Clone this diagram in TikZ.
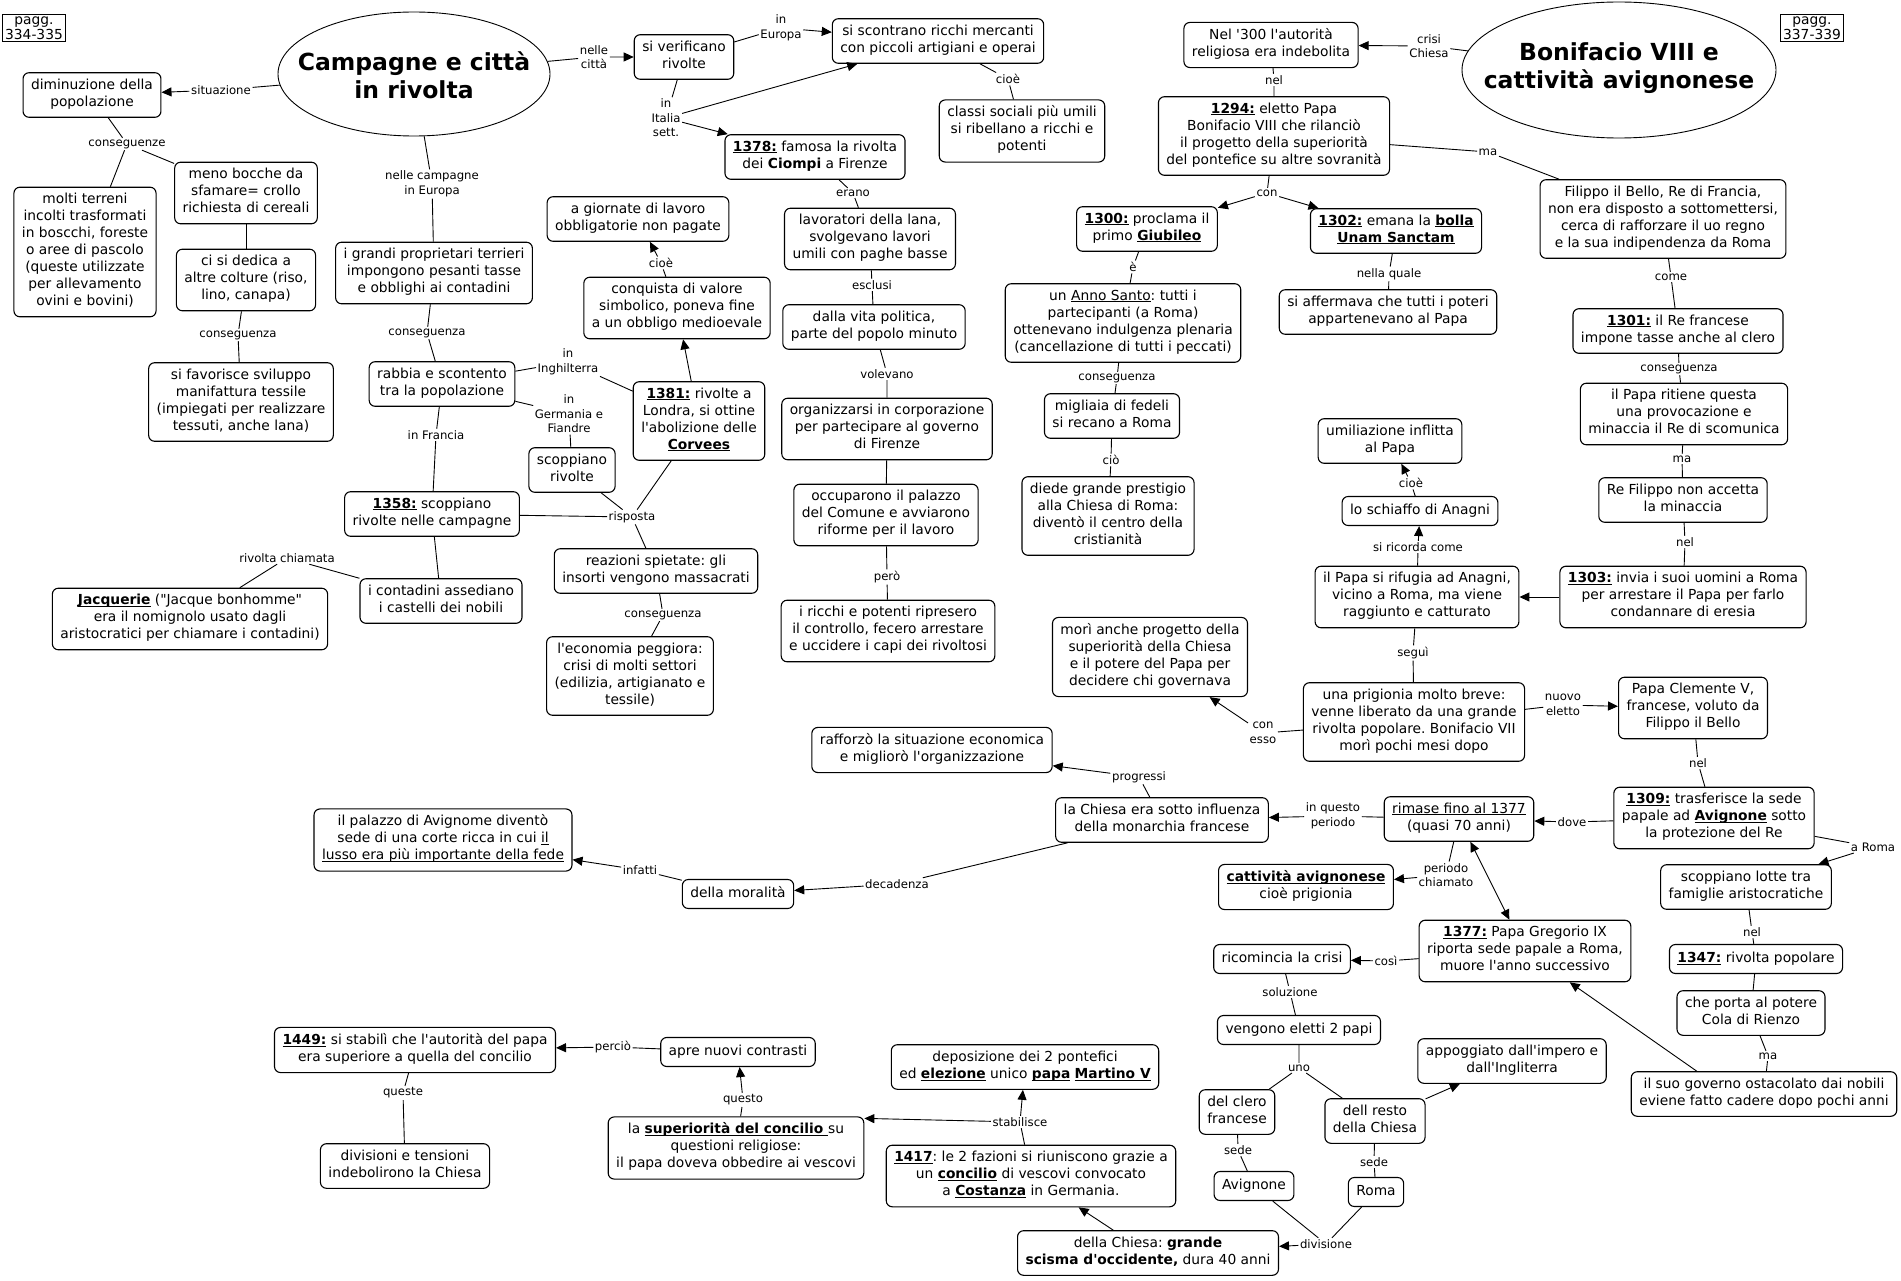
\documentclass[tikz,border=0pt]{standalone}
\usepackage{fontspec}
\setmainfont{DejaVu Sans}[Ligatures=TeXOff]
\usetikzlibrary{arrows.meta,shapes.geometric}
\frenchspacing
\newcommand{\undl}[1]{\leavevmode\setbox0\hbox{#1}\rlap{\rule[-2.2pt]{\wd0}{0.9pt}}\box0\relax}
\newcommand{\yr}[1]{\undl{\textbf{#1}}}

\begin{document}
\begin{tikzpicture}[
    x=1pt,y=-1pt,
    >={Triangle[length=10pt,width=9pt]},
    cpt/.style={
      rectangle,rounded corners=6pt,draw,line width=1.1pt,align=center,
      font=\fontsize{13.8}{17}\selectfont,inner xsep=8pt,inner ysep=6pt,
      execute at begin node=\strut,execute at end node=\strut
    },
    topic/.style={ellipse,draw,line width=0.9pt,inner sep=0pt},
    topictxt/.style={align=center,font=\fontsize{23.5}{28}\selectfont\bfseries},
    pag/.style={
      rectangle,draw,line width=0.9pt,align=center,inner xsep=3pt,inner ysep=1.5pt,
      font=\fontsize{13.8}{15.5}\selectfont
    },
    lnk/.style={align=center,inner sep=1.5pt,font=\fontsize{11.7}{14.5}\selectfont},
    rel/.style={line width=0.9pt}
  ]
    \path[use as bounding box,fill=white] (0,0) rectangle (1901,1281);

    \node[pag] (pagA) at (34,28) {pagg.\\334-335};
    \node[pag] (pagB) at (1812,28) {pagg.\\337-339};
    \node[topic,minimum width=272pt,minimum height=124pt] (campagne) at (414,74) {};
    \node[topictxt] (campagnetxt) at (414,75) {Campagne e città\\in rivolta};
    \node[topic,minimum width=314pt,minimum height=136pt] (bonifacio) at (1619,70) {};
    \node[topictxt] (bonifaciotxt) at (1619,68) {Bonifacio VIII e\\cattività avignonese};

    \node[cpt] (dim) at (92,95) {diminuzione della\\popolazione};
    \node[cpt] (terreni) at (85,252) {molti terreni\\incolti trasformati\\in boscchi, foreste\\o aree di pascolo\\(queste utilizzate\\per allevamento\\ovini e bovini)};
    \node[cpt] (bocche) at (246,193) {meno bocche da\\sfamare= crollo\\richiesta di cereali};
    \node[cpt] (dedica) at (246,280) {ci si dedica a\\altre colture (riso,\\lino, canapa)};
    \node[cpt] (tessile) at (241,402) {si favorisce sviluppo\\manifattura tessile\\(impiegati per realizzare\\tessuti, anche lana)};
    \node[cpt] (proprietari) at (434,273) {i grandi proprietari terrieri\\impongono pesanti tasse\\e obblighi ai contadini};
    \node[cpt] (rabbia) at (442,384) {rabbia e scontento\\tra la popolazione};
    \node[cpt] (verificano) at (684,57) {si verificano\\rivolte};
    \node[cpt] (scontrano) at (938,41) {si scontrano ricchi mercanti\\con piccoli artigiani e operai};
    \node[cpt] (classi) at (1022,131) {classi sociali più umili\\si ribellano a ricchi e\\potenti};
    \node[cpt] (ciompi) at (815,157) {\yr{1378:} famosa la rivolta\\dei \textbf{Ciompi} a Firenze};
    \node[cpt] (lana) at (870,239) {lavoratori della lana,\\svolgevano lavori\\umili con paghe basse};
    \node[cpt] (politica) at (874,327) {dalla vita politica,\\parte del popolo minuto};
    \node[cpt] (corpor) at (887,429) {organizzarsi in corporazione\\per partecipare al governo\\di Firenze};
    \node[cpt] (palazzo) at (886,515) {occuparono il palazzo\\del Comune e avviarono\\riforme per il lavoro};
    \node[cpt] (potenti) at (888,631) {i ricchi e potenti ripresero\\il controllo, fecero arrestare\\e uccidere i capi dei rivoltosi};
    \node[cpt] (giornate) at (638,219) {a giornate di lavoro\\obbligatorie non pagate};
    \node[cpt] (conquista) at (677,308) {conquista di valore\\simbolico, poneva fine\\a un obbligo medioevale};
    \node[cpt] (londra) at (699,421) {\yr{1381:} rivolte a\\Londra, si ottine\\l'abolizione delle\\\yr{Corvees}};
    \node[cpt] (scoprivolte) at (572,470) {scoppiano\\rivolte};
    \node[cpt] (francia) at (432,514) {\yr{1358:} scoppiano\\rivolte nelle campagne};
    \node[cpt] (reazioni) at (656,571) {reazioni spietate: gli\\insorti vengono massacrati};
    \node[cpt] (economia) at (630,676) {l'economia peggiora:\\crisi di molti settori\\(edilizia, artigianato e\\tessile)};
    \node[cpt] (assedio) at (441,601) {i contadini assediano\\i castelli dei nobili};
    \node[cpt] (jacq) at (190,619) {\yr{Jacquerie} ("Jacque bonhomme"\\era il nomignolo usato dagli\\aristocratici per chiamare i contadini)};

    \node[cpt] (trecento) at (1271,45) {Nel '300 l'autorità\\religiosa era indebolita};
    \node[cpt] (b1294) at (1274,136) {\yr{1294:} eletto Papa\\Bonifacio VIII che rilanciò\\il progetto della superiorità\\del pontefice su altre sovranità};
    \node[cpt] (filippo) at (1663,219) {Filippo il Bello, Re di Francia,\\non era disposto a sottomettersi,\\cerca di rafforzare il uo regno\\e la sua indipendenza da Roma};
    \node[cpt] (giubileo) at (1147,229) {\yr{1300:} proclama il\\primo \yr{Giubileo}};
    \node[cpt] (bolla) at (1396,231) {\yr{1302:} emana la \yr{bolla}\\\yr{Unam Sanctam}};
    \node[cpt] (annosanto) at (1123,323) {un \undl{Anno Santo}: tutti i\\partecipanti (a Roma)\\ottenevano indulgenza plenaria\\(cancellazione di tutti i peccati)};
    \node[cpt] (poteri) at (1388,312) {si affermava che tutti i poteri\\appartenevano al Papa};
    \node[cpt] (fedeli) at (1112,416) {migliaia di fedeli\\si recano a Roma};
    \node[cpt] (prestigio) at (1108,516) {diede grande prestigio\\alla Chiesa di Roma:\\diventò il centro della\\cristianità};
    \node[cpt] (r1301) at (1678,331) {\yr{1301:} il Re francese\\impone tasse anche al clero};
    \node[cpt] (ritiene) at (1684,414) {il Papa ritiene questa\\una provocazione e\\minaccia il Re di scomunica};
    \node[cpt] (accetta) at (1683,500) {Re Filippo non accetta\\la minaccia};
    \node[cpt] (r1303) at (1683,597) {\yr{1303:} invia i suoi uomini a Roma\\per arrestare il Papa per farlo\\condannare di eresia};
    \node[cpt] (umiliazione) at (1390,441) {umiliazione inflitta\\al Papa};
    \node[cpt] (schiaffo) at (1420,511) {lo schiaffo di Anagni};
    \node[cpt] (rifugia) at (1417,597) {il Papa si rifugia ad Anagni,\\vicino a Roma, ma viene\\raggiunto e catturato};
    \node[cpt] (prigionia) at (1414,722) {una prigionia molto breve:\\venne liberato da una grande\\rivolta popolare. Bonifacio VII\\morì pochi mesi dopo};
    \node[cpt] (mori) at (1150,657) {morì anche progetto della\\superiorità della Chiesa\\e il potere del Papa per\\decidere chi governava};
    \node[cpt] (clemente) at (1693,708) {Papa Clemente V,\\francese, voluto da\\Filippo il Bello};
    \node[cpt] (r1309) at (1714,818) {\yr{1309:} trasferisce la sede\\papale ad \yr{Avignone} sotto\\la protezione del Re};
    \node[cpt] (rimase) at (1459,819) {\undl{rimase fino al 1377}\\(quasi 70 anni)};
    \node[cpt] (influenza) at (1162,820) {la Chiesa era sotto influenza\\della monarchia francese};
    \node[cpt] (rafforzo) at (932,750) {rafforzò la situazione economica\\e migliorò l'organizzazione};
    \node[cpt] (moralita) at (738,894) {della moralità};
    \node[cpt] (avignome) at (443,840) {il palazzo di Avignome diventò\\sede di una corte ricca in cui \undl{il}\\\undl{lusso era più importante della fede}};
    \node[cpt] (cattivita) at (1306,887) {\yr{cattività avignonese}\\cioè prigionia};
    \node[cpt] (lotte) at (1746,887) {scoppiano lotte tra\\famiglie aristocratiche};
    \node[cpt] (r1347) at (1756,959) {\yr{1347:} rivolta popolare};
    \node[cpt] (cola) at (1751,1013) {che porta al potere\\Cola di Rienzo};
    \node[cpt] (governo) at (1764,1094) {il suo governo ostacolato dai nobili\\eviene fatto cadere dopo pochi anni};
    \node[cpt] (r1377) at (1525,951) {\yr{1377:} Papa Gregorio IX\\riporta sede papale a Roma,\\muore l'anno successivo};
    \node[cpt] (crisi) at (1282,959) {ricomincia la crisi};
    \node[cpt] (papi) at (1299,1030) {vengono eletti 2 papi};
    \node[cpt] (clero) at (1237,1112) {del clero\\francese};
    \node[cpt] (resto) at (1375,1121) {dell resto\\della Chiesa};
    \node[cpt] (appoggiato) at (1512,1061) {appoggiato dall'impero e\\dall'Ingliterra};
    \node[cpt] (avignone) at (1254,1186) {Avignone};
    \node[cpt] (roma) at (1376,1192) {Roma};
    \node[cpt] (scisma) at (1148,1253) {della Chiesa: \textbf{grande}\\\textbf{scisma d'occidente,} dura 40 anni};
    \node[cpt] (r1417) at (1031,1176) {\yr{1417}: le 2 fazioni si riuniscono grazie a\\un \yr{concilio} di vescovi convocato\\a \yr{Costanza} in Germania.};
    \node[cpt] (deposizione) at (1025,1067) {deposizione dei 2 pontefici\\ed \yr{elezione} unico \yr{papa} \yr{Martino V}};
    \node[cpt] (superiorita) at (736,1148) {la \yr{superiorità del concilio }su\\questioni religiose:\\il papa doveva obbedire ai vescovi};
    \node[cpt] (apre) at (738,1052) {apre nuovi contrasti};
    \node[cpt] (r1449) at (415,1050) {\yr{1449:} si stabilì che l'autorità del papa\\era superiore a quella del concilio};
    \node[cpt] (divisioni) at (405,1166) {divisioni e tensioni\\indebolirono la Chiesa};

    \node[lnk] (lsituazione) at (221,90) {situazione};
    \node[lnk] (lconseguenze) at (127,144) {conseguenze};
    \node[lnk] (lconsA) at (238,335) {conseguenza};
    \node[lnk] (lcampagne) at (432,184) {nelle campagne\\in Europa};
    \node[lnk] (lconsB) at (427,333) {conseguenza};
    \node[lnk] (lfrancia) at (436,435) {in Francia};
    \node[lnk] (lcitta) at (594,57) {nelle\\città};
    \node[lnk] (leuropa) at (781,28) {in\\Europa};
    \node[lnk] (litalia) at (666,118) {in\\Italia\\sett.};
    \node[lnk] (lcioeA) at (1008,79) {cioè};
    \node[lnk] (lerano) at (853,193) {erano};
    \node[lnk] (lesclusi) at (872,285) {esclusi};
    \node[lnk] (lvolevano) at (887,374) {volevano};
    \node[lnk] (lcioeB) at (661,263) {cioè};
    \node[lnk] (lingh) at (568,362) {in\\Inghilterra};
    \node[lnk] (lgerm) at (569,414) {in\\Germania e\\Fiandre};
    \node[lnk] (lrisposta) at (632,517) {risposta};
    \node[lnk] (lconsC) at (663,615) {conseguenza};
    \node[lnk] (lpero) at (887,577) {però};
    \node[lnk] (lchiamata) at (287,558) {rivolta chiamata};
    \node[lnk] (linfatti) at (640,870) {infatti};
    \node[lnk] (ldecadenza) at (897,884) {decadenza};
    \node[lnk] (lpercio) at (613,1047) {perciò};
    \node[lnk] (lqueste) at (403,1093) {queste};
    \node[lnk] (lquesto) at (743,1100) {questo};
    \node[lnk] (lstabilisce) at (1020,1122) {stabilisce};
    \node[lnk] (ldivisione) at (1326,1244) {divisione};
    \node[lnk] (lsedeA) at (1238,1150) {sede};
    \node[lnk] (lsedeB) at (1374,1162) {sede};
    \node[lnk] (luno) at (1299,1068) {uno};
    \node[lnk] (lsoluzione) at (1290,992) {soluzione};
    \node[lnk] (lcosi) at (1386,961) {così};
    \node[lnk] (lchiamato) at (1446,875) {periodo\\chiamato};
    \node[lnk] (lnelE) at (1752,932) {nel};
    \node[lnk] (lmaC) at (1768,1056) {ma};
    \node[lnk] (laroma) at (1873,847) {a Roma};
    \node[lnk] (ldove) at (1572,822) {dove};
    \node[lnk] (lnelD) at (1698,763) {nel};
    \node[lnk] (leletto) at (1563,705) {nuovo\\eletto};
    \node[lnk] (lsegui) at (1413,653) {seguì};
    \node[lnk] (lnelC) at (1685,542) {nel};
    \node[lnk] (lmaB) at (1682,459) {ma};
    \node[lnk] (lricorda) at (1418,547) {si ricorda come};
    \node[lnk] (lcioeC) at (1411,483) {cioè};
    \node[lnk] (lcio) at (1111,460) {ciò};
    \node[lnk] (lconesso) at (1263,733) {con\\esso};
    \node[lnk] (lperiodo) at (1333,816) {in questo\\periodo};
    \node[lnk] (lprogressi) at (1139,777) {progressi};
    \node[lnk] (lcrisi) at (1429,46) {crisi\\Chiesa};
    \node[lnk] (lnelA) at (1274,80) {nel};
    \node[lnk] (lmaA) at (1488,152) {ma};
    \node[lnk] (lcon) at (1267,193) {con};
    \node[lnk] (le) at (1133,267) {è};
    \node[lnk] (lconsD) at (1117,378) {conseguenza};
    \node[lnk] (lnellaquale) at (1389,274) {nella quale};
    \node[lnk] (lcome) at (1671,277) {come};
    \node[lnk] (lconsE) at (1679,369) {conseguenza};

    \draw[rel,->] (campagne) -- (lsituazione) -- (dim);
    \draw[rel] (dim) -- (lconseguenze) -- (terreni);
    \draw[rel] (lconseguenze) -- (bocche);
    \draw[rel] (bocche) -- (dedica);
    \draw[rel] (dedica) -- (lconsA) -- (tessile);
    \draw[rel] (campagne) -- (lcampagne) -- (proprietari);
    \draw[rel] (proprietari) -- (lconsB) -- (rabbia);
    \draw[rel] (rabbia) -- (lfrancia) -- (francia);
    \draw[rel] (rabbia) -- (lingh) -- (londra);
    \draw[rel] (rabbia) -- (lgerm) -- (scoprivolte);
    \draw[rel] (francia) -- (lrisposta);
    \draw[rel] (scoprivolte) -- (lrisposta);
    \draw[rel] (londra) -- (lrisposta);
    \draw[rel] (lrisposta) -- (reazioni);
    \draw[rel] (reazioni) -- (lconsC) -- (economia);
    \draw[rel] (francia) -- (assedio);
    \draw[rel] (assedio) -- (lchiamata) -- (jacq);
    \draw[rel,->] (londra) -- (conquista);
    \draw[rel,->] (conquista) -- (lcioeB) -- (giornate);
    \draw[rel,->] (campagne) -- (lcitta) -- (verificano);
    \draw[rel,->] (verificano) -- (leuropa) -- (scontrano);
    \draw[rel] (verificano) -- (litalia);
    \draw[rel,->] (litalia) -- (scontrano);
    \draw[rel,->] (litalia) -- (ciompi);
    \draw[rel] (scontrano) -- (lcioeA) -- (classi);
    \draw[rel] (ciompi) -- (lerano) -- (lana);
    \draw[rel] (lana) -- (lesclusi) -- (politica);
    \draw[rel] (politica) -- (lvolevano) -- (corpor);
    \draw[rel] (corpor) -- (palazzo);
    \draw[rel] (palazzo) -- (lpero) -- (potenti);

    \draw[rel,->] (bonifacio) -- (lcrisi) -- (trecento);
    \draw[rel] (trecento) -- (lnelA) -- (b1294);
    \draw[rel] (b1294) -- (lmaA) -- (filippo);
    \draw[rel] (b1294) -- (lcon);
    \draw[rel,->] (lcon) -- (giubileo);
    \draw[rel,->] (lcon) -- (bolla);
    \draw[rel] (giubileo) -- (le) -- (annosanto);
    \draw[rel] (annosanto) -- (lconsD) -- (fedeli);
    \draw[rel] (fedeli) -- (lcio) -- (prestigio);
    \draw[rel] (bolla) -- (lnellaquale) -- (poteri);
    \draw[rel] (filippo) -- (lcome) -- (r1301);
    \draw[rel] (r1301) -- (lconsE) -- (ritiene);
    \draw[rel] (ritiene) -- (lmaB) -- (accetta);
    \draw[rel] (accetta) -- (lnelC) -- (r1303);
    \draw[rel,->] (r1303) -- (rifugia);
    \draw[rel,->] (rifugia) -- (lricorda) -- (schiaffo);
    \draw[rel,->] (schiaffo) -- (lcioeC) -- (umiliazione);
    \draw[rel] (rifugia) -- (lsegui) -- (prigionia);
    \draw[rel,->] (prigionia) -- (lconesso) -- (mori);
    \draw[rel,->] (prigionia) -- (leletto) -- (clemente);
    \draw[rel] (clemente) -- (lnelD) -- (r1309);
    \draw[rel,->] (r1309) -- (ldove) -- (rimase);
    \draw[rel,->] (r1309) -- (laroma) -- (lotte);
    \draw[rel] (lotte) -- (lnelE) -- (r1347);
    \draw[rel] (r1347) -- (cola);
    \draw[rel] (cola) -- (lmaC) -- (governo);
    \draw[rel,->] ([xshift=66pt]governo.north west) -- (r1377);
    \draw[rel,->] (rimase) -- (lperiodo) -- (influenza);
    \draw[rel,->] (influenza) -- (lprogressi) -- (rafforzo);
    \draw[rel,->] (influenza) -- (ldecadenza) -- (moralita);
    \draw[rel,->] (moralita) -- (linfatti) -- (avignome);
    \draw[rel,->] (rimase) -- (lchiamato) -- (cattivita);
    \draw[rel,<->] (rimase) -- (r1377);
    \draw[rel,->] (r1377) -- (lcosi) -- (crisi);
    \draw[rel] (crisi) -- (lsoluzione) -- (papi);
    \draw[rel] (papi) -- (luno) -- (clero);
    \draw[rel] (luno) -- (resto);
    \draw[rel] (clero) -- (lsedeA) -- (avignone);
    \draw[rel] (resto) -- (lsedeB) -- (roma);
    \draw[rel,->] (resto) -- (appoggiato);
    \draw[rel] (avignone) -- (ldivisione);
    \draw[rel] (roma) -- (ldivisione);
    \draw[rel,->] (ldivisione) -- (scisma);
    \draw[rel,->] (scisma) -- (r1417);
    \draw[rel] (r1417) -- (lstabilisce);
    \draw[rel,->] (lstabilisce) -- (deposizione);
    \draw[rel,->] (lstabilisce) -- ([yshift=-2pt]superiorita.north east);
    \draw[rel,->] (superiorita) -- (lquesto) -- (apre);
    \draw[rel,->] (apre) -- (lpercio) -- (r1449);
    \draw[rel] (r1449) -- (lqueste) -- (divisioni);
  \end{tikzpicture}
\end{document}
